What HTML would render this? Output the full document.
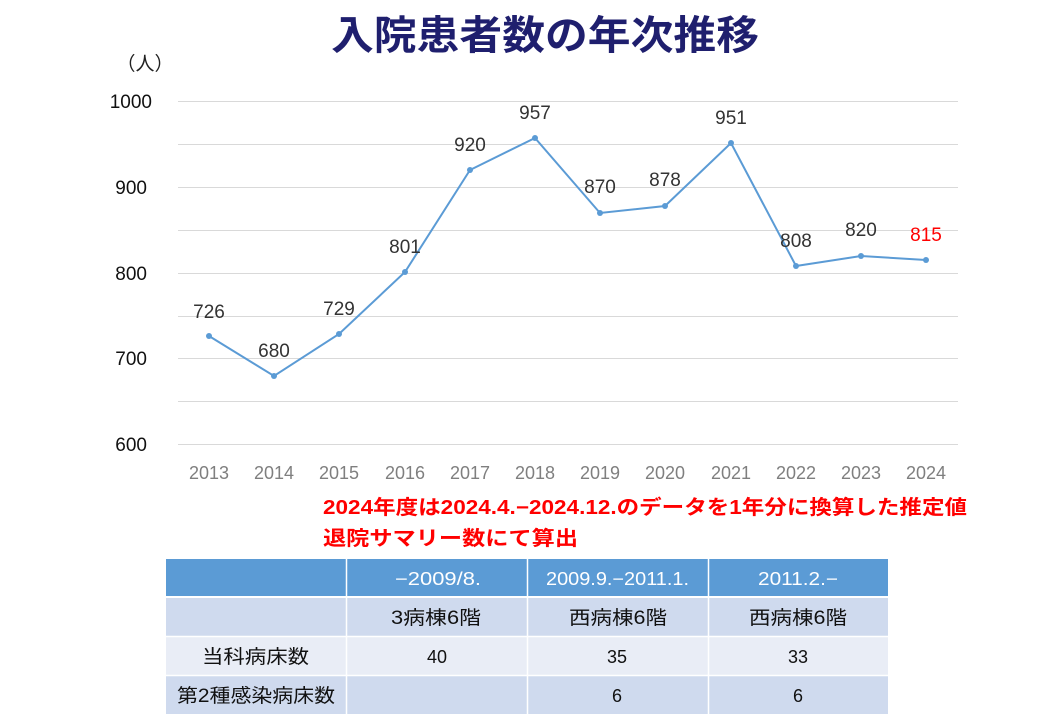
<!DOCTYPE html>
<html><head><meta charset="utf-8"><style>
body{margin:0;background:#fff;width:1040px;height:720px;overflow:hidden;font-family:"Liberation Sans","Noto Sans CJK JP",sans-serif}
</style></head><body>
<svg width="1040" height="720" xmlns="http://www.w3.org/2000/svg" font-family="Liberation Sans, Noto Sans CJK JP, sans-serif">
<text x="331" y="49" font-size="40" font-weight="bold" fill="#1f1f6e" textLength="428" lengthAdjust="spacingAndGlyphs">入院患者数の年次推移</text>
<text x="145" y="70" text-anchor="middle" font-size="19" fill="#222">（人）</text>
<g stroke="#d9d9d9" stroke-width="1">
<line x1="178" x2="958" y1="101.5" y2="101.5"/><line x1="178" x2="958" y1="144.5" y2="144.5"/>
<line x1="178" x2="958" y1="187.5" y2="187.5"/><line x1="178" x2="958" y1="230.5" y2="230.5"/>
<line x1="178" x2="958" y1="273.5" y2="273.5"/><line x1="178" x2="958" y1="316.5" y2="316.5"/>
<line x1="178" x2="958" y1="358.5" y2="358.5"/><line x1="178" x2="958" y1="401.5" y2="401.5"/>
<line x1="178" x2="958" y1="444.5" y2="444.5"/>
</g>
<g font-size="19" fill="#111" text-anchor="end">
<text x="152" y="108">1000</text><text x="147" y="194">900</text><text x="147" y="280">800</text><text x="147" y="365">700</text><text x="147" y="451">600</text>
</g>
<g font-size="18" fill="#7f7f7f" text-anchor="middle">
<text x="209" y="479">2013</text><text x="274" y="479">2014</text><text x="339" y="479">2015</text><text x="405" y="479">2016</text><text x="470" y="479">2017</text><text x="535" y="479">2018</text><text x="600" y="479">2019</text><text x="665" y="479">2020</text><text x="731" y="479">2021</text><text x="796" y="479">2022</text><text x="861" y="479">2023</text><text x="926" y="479">2024</text>
</g>
<polyline fill="none" stroke="#5b9bd5" stroke-width="2" points="209,336 274,376 339,334 405,272 470,170 535,138 600,213 665,206 731,143 796,266 861,256 926,260"/>
<g fill="#5b9bd5">
<circle cx="209" cy="336" r="3"/><circle cx="274" cy="376" r="3"/><circle cx="339" cy="334" r="3"/><circle cx="405" cy="272" r="3"/><circle cx="470" cy="170" r="3"/><circle cx="535" cy="138" r="3"/><circle cx="600" cy="213" r="3"/><circle cx="665" cy="206" r="3"/><circle cx="731" cy="143" r="3"/><circle cx="796" cy="266" r="3"/><circle cx="861" cy="256" r="3"/><circle cx="926" cy="260" r="3"/>
</g>
<g font-size="19" fill="#333" text-anchor="middle">
<text x="209" y="318">726</text><text x="274" y="357">680</text><text x="339" y="315">729</text><text x="405" y="253">801</text><text x="470" y="151">920</text><text x="535" y="119">957</text><text x="600" y="193">870</text><text x="665" y="186">878</text><text x="731" y="124">951</text><text x="796" y="247">808</text><text x="861" y="236">820</text><text x="926" y="241" fill="#ff0000">815</text>
</g>
<g font-size="20" font-weight="bold" fill="#ff0000">
<text x="323" y="514" textLength="644" lengthAdjust="spacingAndGlyphs">2024年度は2024.4.−2024.12.のデータを1年分に換算した推定値</text>
<text x="323" y="545" textLength="255" lengthAdjust="spacingAndGlyphs">退院サマリー数にて算出</text>
</g>
<rect x="166" y="559" width="722" height="37" fill="#5b9bd5"/>
<rect x="166" y="598" width="722" height="38" fill="#cfdaee"/>
<rect x="166" y="637" width="722" height="38" fill="#e9edf6"/>
<rect x="166" y="676" width="722" height="38" fill="#cfdaee"/>
<g stroke="#fff" stroke-width="1.5">
<line x1="346.5" x2="346.5" y1="559" y2="714"/><line x1="527.5" x2="527.5" y1="559" y2="714"/><line x1="708.5" x2="708.5" y1="559" y2="714"/>
<line x1="166" x2="888" y1="636.5" y2="636.5"/><line x1="166" x2="888" y1="675.5" y2="675.5"/>
</g>
<g font-size="18" fill="#fff">
<text x="395" y="585" textLength="86" lengthAdjust="spacingAndGlyphs">−2009/8.</text><text x="546" y="585" textLength="143" lengthAdjust="spacingAndGlyphs">2009.9.−2011.1.</text><text x="758" y="585" textLength="80" lengthAdjust="spacingAndGlyphs">2011.2.−</text>
</g>
<g font-size="19" fill="#111">
<text x="391" y="624" textLength="90" lengthAdjust="spacingAndGlyphs">3病棟6階</text><text x="569" y="624" textLength="98" lengthAdjust="spacingAndGlyphs">西病棟6階</text><text x="749" y="624" textLength="98" lengthAdjust="spacingAndGlyphs">西病棟6階</text>
<text x="202" y="663" textLength="107" lengthAdjust="spacingAndGlyphs">当科病床数</text>
<text x="177" y="702" textLength="158" lengthAdjust="spacingAndGlyphs">第2種感染病床数</text>
</g>
<g font-size="18" text-anchor="middle" fill="#111">
<text x="437" y="663">40</text><text x="617" y="663">35</text><text x="798" y="663">33</text>
<text x="617" y="702">6</text><text x="798" y="702">6</text>
</g>
</svg>
</body></html>
